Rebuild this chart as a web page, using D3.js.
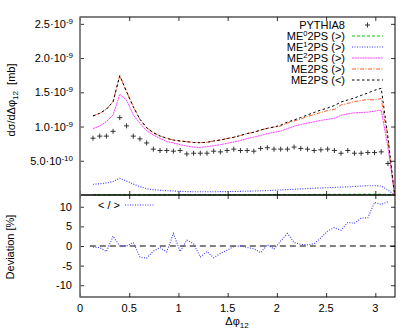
<!DOCTYPE html>
<html>
<head>
<meta charset="utf-8">
<script src="https://cdnjs.cloudflare.com/ajax/libs/d3/7.8.5/d3.min.js"></script>
<style>
body { margin: 0; background: #fff; }
text { font-family: "Liberation Sans", Arial, sans-serif; }
</style>
</head>
<body>
<div id="canvas"></div>
<script>
// bin centres in delta phi_12
var dphi = [0.132,0.200,0.268,0.336,0.404,0.473,0.541,0.609,0.677,0.745,0.813,0.881,0.949,1.017,1.085,1.154,1.222,1.290,1.358,1.426,1.494,1.562,1.630,1.698,1.766,1.835,1.903,1.971,2.039,2.107,2.175,2.243,2.311,2.379,2.447,2.516,2.584,2.652,2.720,2.788,2.856,2.924,2.992,3.060,3.128,3.196];

// cross sections in units of 1e-9 mb
var pythia = [0.83,0.86,0.86,0.93,1.13,1.01,0.86,0.82,0.76,0.67,0.65,0.65,0.64,0.65,0.60,0.61,0.61,0.61,0.64,0.63,0.65,0.67,0.65,0.65,0.64,0.68,0.69,0.67,0.67,0.67,0.70,0.68,0.67,0.65,0.66,0.67,0.65,0.61,0.65,0.61,0.61,0.62,0.62,0.63,0.46,null];
var me0 = [0.004,0.004,0.004,0.004,0.005,0.004,0.004,0.004,0.004,0.004,0.004,0.004,0.004,0.004,0.004,0.004,0.004,0.004,0.004,0.004,0.004,0.004,0.004,0.004,0.004,0.004,0.005,0.005,0.005,0.006,0.006,0.007,0.007,0.008,0.008,0.009,0.009,0.010,0.010,0.011,0.011,0.012,0.012,0.012,0.008,0.0];
var me1 = [0.156,0.164,0.175,0.197,0.244,0.204,0.161,0.121,0.092,0.077,0.069,0.063,0.058,0.054,0.050,0.048,0.047,0.047,0.048,0.049,0.050,0.051,0.053,0.056,0.058,0.061,0.065,0.069,0.074,0.079,0.084,0.089,0.094,0.099,0.103,0.107,0.111,0.115,0.120,0.125,0.130,0.135,0.136,0.131,0.073,0.0];
var me2 = [0.97,1.008,1.071,1.169,1.471,1.388,1.169,1.047,0.939,0.876,0.828,0.779,0.76,0.735,0.715,0.70,0.695,0.706,0.72,0.735,0.755,0.775,0.795,0.825,0.846,0.87,0.897,0.915,0.935,0.97,1.005,1.03,1.05,1.07,1.09,1.105,1.12,1.165,1.185,1.20,1.205,1.21,1.225,1.24,0.70,0.0];
var me2psGT = [1.154,1.193,1.252,1.363,1.743,1.509,1.29,1.106,0.983,0.910,0.862,0.828,0.803,0.789,0.779,0.767,0.764,0.770,0.789,0.803,0.825,0.843,0.869,0.898,0.916,0.949,0.974,0.993,1.008,1.052,1.081,1.110,1.147,1.176,1.205,1.234,1.249,1.315,1.337,1.366,1.380,1.395,1.388,1.41,0.80,0.0];
var me2psLT = [1.154,1.193,1.252,1.363,1.743,1.509,1.29,1.106,0.983,0.910,0.862,0.828,0.803,0.789,0.779,0.767,0.764,0.770,0.789,0.803,0.825,0.843,0.869,0.898,0.916,0.949,0.974,0.993,1.02,1.066,1.096,1.132,1.169,1.205,1.242,1.271,1.307,1.358,1.388,1.417,1.455,1.49,1.53,1.559,0.85,0.0];

// deviation < / > in percent
var deviation = [-0.3,-0.4,-1.4,2.5,0,0,0.9,-2.8,-3.1,-1.3,-0.4,-1.5,3.2,-1.4,1.5,0.6,-2.8,-1.4,-3.0,-1.9,-1.1,-0.1,0,-0.4,-0.7,-1.7,0.3,-0.8,1.3,3.2,0.9,0.4,0.3,0.6,2.1,3.8,4.7,4.0,6.0,5.8,7.1,7.2,11.1,10.6,11.3];

var xTicks = [0,0.5,1,1.5,2,2.5,3];
var xTickLabels = ["0","0.5","1","1.5","2","2.5","3"];
var yTicks = [0.5,1.0,1.5,2.0,2.5];
var yTickMant = ["5.0","1.0","1.5","2.0","2.5"];
var yTickExp = ["-10","-9","-9","-9","-9"];
var devTicks = [-10,-5,0,5,10];

var width = 415, height = 333;
var left = 80, right = 395;
var top1 = 17, bot1 = 195, bot2 = 297;
var fontSize = 11;

var svg = d3.select("#canvas").append("svg")
	.attr("width",width)
	.attr("height",height)
	.style("background","#fff");

var x = d3.scaleLinear().domain([0,3.2]).range([left,right]);
var y = d3.scaleLinear().domain([0,2.6]).range([bot1,top1]);
var y2 = d3.scaleLinear().domain([-13,13]).range([bot2,bot1]);

function tickAxes(gen, tr){
	var g = svg.append("g").attr("transform",tr).call(gen);
	g.select(".domain").remove();
	g.selectAll("line").attr("stroke","#000").attr("stroke-width",0.8);
	return g;
}

// ticks (inward, all sides)
tickAxes(d3.axisBottom(x).tickValues(xTicks).tickSize(-4).tickFormat(""), "translate(0,"+bot1+")");
tickAxes(d3.axisTop(x).tickValues(xTicks).tickSize(-4).tickFormat(""), "translate(0,"+top1+")");
tickAxes(d3.axisTop(x).tickValues(xTicks).tickSize(-4).tickFormat(""), "translate(0,"+bot1+")");
tickAxes(d3.axisBottom(x).tickValues(xTicks).tickSize(-4).tickFormat(""), "translate(0,"+bot2+")");
tickAxes(d3.axisLeft(y).tickValues(yTicks).tickSize(-4).tickFormat(""), "translate("+left+",0)");
tickAxes(d3.axisRight(y).tickValues(yTicks).tickSize(-4).tickFormat(""), "translate("+right+",0)");
tickAxes(d3.axisLeft(y2).tickValues(devTicks).tickSize(-4).tickFormat(""), "translate("+left+",0)");
tickAxes(d3.axisRight(y2).tickValues(devTicks).tickSize(-4).tickFormat(""), "translate("+right+",0)");

// x tick labels
svg.selectAll("text.xl").data(xTicks).enter().append("text")
	.attr("x",function(d){return x(d);})
	.attr("y",312)
	.attr("text-anchor","middle")
	.style("font-size",fontSize+"px")
	.text(function(d,i){return xTickLabels[i];});

// upper y tick labels with exponent
yTicks.forEach(function(v,i){
	var t = svg.append("text")
		.attr("x",73)
		.attr("y",y(v)+4)
		.attr("text-anchor","end")
		.style("font-size",fontSize+"px");
	t.append("tspan").text(yTickMant[i]+"\u00b710");
	t.append("tspan").attr("dy",-4).style("font-size","8px").text(yTickExp[i]);
});

// lower y tick labels
svg.selectAll("text.dl").data(devTicks).enter().append("text")
	.attr("x",72)
	.attr("y",function(d){return y2(d)+4;})
	.attr("text-anchor","end")
	.style("font-size",fontSize+"px")
	.text(function(d){return d<0 ? "-"+Math.abs(d) : ""+d;});

// axis titles
var yt = svg.append("text")
	.attr("transform","translate(15,100) rotate(-90)")
	.attr("text-anchor","middle")
	.style("font-size",fontSize+"px");
yt.append("tspan").text("d\u03c3/d\u0394\u03c6");
yt.append("tspan").attr("dy",3).style("font-size","8px").text("12");
yt.append("tspan").attr("dy",-3).text("\u00a0\u00a0[mb]");

svg.append("text")
	.attr("transform","translate(14,247) rotate(-90)")
	.attr("text-anchor","middle")
	.style("font-size",fontSize+"px")
	.text("Deviation [%]");

var xt = svg.append("text")
	.attr("x",237)
	.attr("y",325)
	.attr("text-anchor","middle")
	.style("font-size",fontSize+"px");
xt.append("tspan").text("\u0394\u03c6");
xt.append("tspan").attr("dy",3).style("font-size","8px").text("12");

// curves
var series = [
	{name:"me0", vals:me0, color:"#00cc00", dash:"3,2", w:1},
	{name:"me1", vals:me1, color:"#3838ff", dash:"1,1.5", w:1.1},
	{name:"me2", vals:me2, color:"#ff40ff", dash:"2,0.6", w:1},
	{name:"me2psGT", vals:me2psGT, color:"#ff5a28", dash:"4,1.5,1,1.5", w:1},
	{name:"me2psLT", vals:me2psLT, color:"#000", dash:"2.5,2.5", w:1}
];

var line = d3.line()
	.defined(function(d){return d[1]!=null;})
	.x(function(d){return x(d[0]);})
	.y(function(d){return y(d[1]);});

series.forEach(function(s){
	svg.append("path")
		.datum(dphi.map(function(v,i){return [v,s.vals[i]];}))
		.attr("d",line)
		.attr("fill","none")
		.attr("stroke",s.color)
		.attr("stroke-width",s.w)
		.attr("stroke-dasharray",s.dash);
});

// pythia crosses
svg.selectAll("path.px").data(dphi.map(function(v,i){return [v,pythia[i]];}).filter(function(d){return d[1]!=null;}))
	.enter().append("path")
	.attr("d",function(d){
		var cx = x(d[0]), cy = y(d[1]);
		return "M"+(cx-2.5)+","+cy+"H"+(cx+2.5)+"M"+cx+","+(cy-2.5)+"V"+(cy+2.5);
	})
	.attr("stroke","#333")
	.attr("stroke-width",1);

// deviation panel zero line
svg.append("path")
	.attr("d","M"+x(0.1)+","+y2(0)+"H"+right)
	.attr("stroke","#000")
	.attr("stroke-width",1)
	.attr("stroke-dasharray","6,4");

var line2 = d3.line()
	.x(function(d){return x(d[0]);})
	.y(function(d){return y2(d[1]);});
svg.append("path")
	.datum(deviation.map(function(v,i){return [dphi[i],v];}))
	.attr("d",line2)
	.attr("fill","none")
	.attr("stroke","#3838ff")
	.attr("stroke-width",1.1)
	.attr("stroke-dasharray","1,1.5");

// frames
svg.append("rect").attr("x",left).attr("y",top1).attr("width",right-left).attr("height",bot1-top1)
	.attr("fill","none").attr("stroke","#000").attr("stroke-width",1);
svg.append("rect").attr("x",left).attr("y",bot1).attr("width",right-left).attr("height",bot2-bot1)
	.attr("fill","none").attr("stroke","#000").attr("stroke-width",1);
svg.append("line").attr("x1",left).attr("x2",left).attr("y1",top1).attr("y2",bot2)
	.attr("stroke","#888").attr("stroke-width",1.5);

// legend
var legNames = [["PYTHIA8",""],["ME","0"],["ME","1"],["ME","2"],["ME2PS (>)",""],["ME2PS (<)",""]];
var legSeries = [null, series[0], series[1], series[2], series[3], series[4]];
legNames.forEach(function(n,i){
	var by = 28.5 + i*11;
	var t = svg.append("text")
		.attr("x",345)
		.attr("y",by)
		.attr("text-anchor","end")
		.style("font-size",fontSize+"px");
	t.append("tspan").text(n[0]);
	if(n[1]!==""){
		t.append("tspan").attr("dy",-3.5).style("font-size","7.5px").text(n[1]);
		t.append("tspan").attr("dy",3.5).text("2PS (>)");
	}
	var s = legSeries[i];
	if(s){
		svg.append("line")
			.attr("x1",352).attr("x2",383)
			.attr("y1",by-3.5).attr("y2",by-3.5)
			.attr("stroke",s.color)
			.attr("stroke-width",s.w)
			.attr("stroke-dasharray",s.dash);
	}else{
		var cx = 367.5, cy = by-3.5;
		svg.append("path")
			.attr("d","M"+(cx-2.5)+","+cy+"H"+(cx+2.5)+"M"+cx+","+(cy-2.5)+"V"+(cy+2.5))
			.attr("stroke","#333").attr("stroke-width",1);
	}
});

svg.append("text")
	.attr("x",120)
	.attr("y",208.5)
	.attr("text-anchor","end")
	.style("font-size",fontSize+"px")
	.text("< / >");
svg.append("line")
	.attr("x1",125).attr("x2",155)
	.attr("y1",205).attr("y2",205)
	.attr("stroke","#3838ff")
	.attr("stroke-width",1.1)
	.attr("stroke-dasharray","1,1.5");
</script>
</body>
</html>
